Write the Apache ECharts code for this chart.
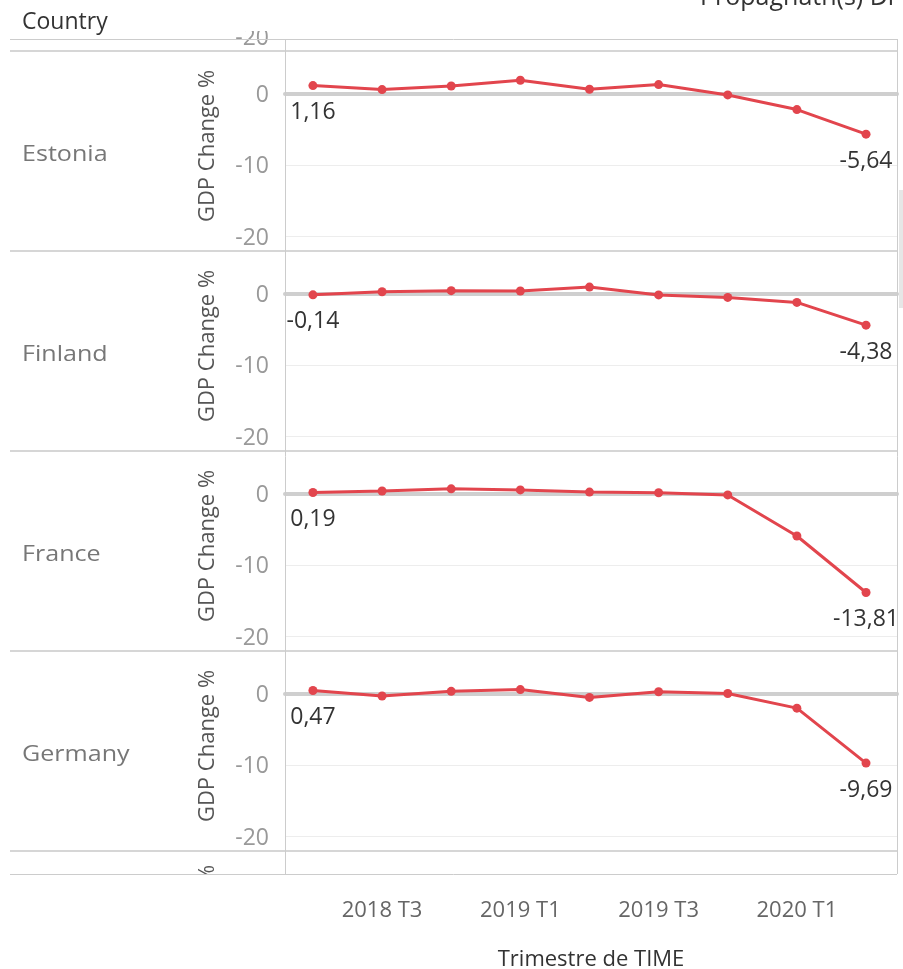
<!DOCTYPE html>
<html>
<head>
<meta charset="utf-8">
<script src="https://cdn.jsdelivr.net/npm/echarts@6/dist/echarts.min.js"></script>
<style>
  html, body { margin: 0; padding: 0; background: #fff; }
  #chart { width: 903px; height: 969px; }
</style>
</head>
<body>
<div id="chart"></div>
<script>
var quarters = ['2018 T2', '2018 T3', '2018 T4', '2019 T1', '2019 T2', '2019 T3', '2019 T4', '2020 T1', '2020 T2'];
var countries = ['Estonia', 'Finland', 'France', 'Germany'];
var estonia = [1.16, 0.6, 1.1, 1.9, 0.65, 1.3, -0.15, -2.2, -5.64];
var finland = [-0.14, 0.3, 0.45, 0.4, 0.95, -0.15, -0.5, -1.2, -4.38];
var france = [0.19, 0.4, 0.7, 0.55, 0.25, 0.15, -0.15, -5.9, -13.81];
var germany = [0.47, -0.3, 0.35, 0.6, -0.5, 0.3, 0.05, -2.0, -9.69];
var yTicks = [0, -10, -20];
var xTickIdx = [1, 3, 5, 7];

var values = [estonia, finland, france, germany];
var FONT = "'Open Sans', 'Noto Sans', sans-serif";
var RED = '#e2454d';
var XMIN = -0.404, XMAX = 8.448;
var LEFT = 285, RIGHT = 6, PANEL = 200, FIRST = 51;

var grids = [], xAxes = [], yAxes = [], series = [], graphic = [];

// panel tops: one above (scrolled out), four countries, one partial below
var tops = [FIRST - PANEL, FIRST, FIRST + PANEL, FIRST + 2 * PANEL, FIRST + 3 * PANEL, FIRST + 4 * PANEL];

tops.forEach(function (t, i) {
    var isData = i >= 1 && i <= 4;
    grids.push({ left: LEFT, right: RIGHT, top: t, height: PANEL, outerBoundsMode: 'none' });
    xAxes.push({
        type: 'value', gridIndex: i, min: XMIN, max: XMAX,
        axisLine: { show: isData, lineStyle: { color: '#cfcfcf', width: 4 } },
        axisTick: { show: false }, axisLabel: { show: false }, splitLine: { show: false }
    });
    yAxes.push({
        type: 'value', gridIndex: i, min: -22, max: 6, interval: 2,
        name: i === 0 ? '' : 'GDP Change %',
        nameLocation: 'middle', nameGap: 66,
        nameTextStyle: { color: '#555', fontSize: 22, fontFamily: FONT, padding: [0, 0, 0, i === 5 ? 20 : 10] },
        axisLine: { show: false }, axisTick: { show: false },
        axisLabel: {
            show: i <= 4, color: '#999', fontSize: 23, fontFamily: FONT, margin: 16,
            verticalAlign: 'top', padding: [-10, 0, 0, 0],
            formatter: function (v) { return yTicks.indexOf(v) >= 0 ? String(v) : ''; }
        },
        splitLine: {
            show: isData,
            lineStyle: { color: ['transparent', '#ededed', 'transparent', 'transparent', 'transparent'], width: 1 }
        }
    });
});

// quarter labels under the view
xAxes.push({
    type: 'value', gridIndex: 4, min: XMIN, max: XMAX, position: 'bottom', offset: 23,
    axisLine: { show: false, onZero: false }, axisTick: { show: false }, splitLine: { show: false },
    axisLabel: {
        customValues: xTickIdx, color: '#666', fontSize: 22, fontFamily: FONT, margin: 26,
        formatter: function (v) { return quarters[v]; }
    },
    name: 'Trimestre de TIME', nameLocation: 'middle', nameGap: 75,
    nameTextStyle: { color: '#333', fontSize: 22, fontFamily: FONT }
});

values.forEach(function (vals, k) {
    var g = k + 1;
    series.push({
        type: 'line', name: countries[k], xAxisIndex: g, yAxisIndex: g, z: 5,
        data: vals.map(function (v, j) { return [j, v]; }),
        color: RED, symbol: 'circle', symbolSize: 9,
        lineStyle: { width: 3, color: RED },
        label: {
            show: true, position: 'bottom', distance: 11,
            color: '#333', fontSize: 23, fontFamily: FONT,
            formatter: function (p) {
                var n = p.data[0];
                if (n === 0 || n === quarters.length - 1) return p.data[1].toFixed(2).replace('.', ',');
                return '';
            }
        }
    });
    graphic.push({
        type: 'text', x: 22, y: FIRST + PANEL * k + PANEL / 2 - 7, scaleX: 1.14,
        style: { text: countries[k], fill: '#777', font: '22px ' + FONT }
    });
});

function hline(y, x1, x2, w, c) {
    graphic.push({ type: 'line', z: 60, shape: { x1: x1, y1: y, x2: x2, y2: y }, style: { stroke: c, lineWidth: w } });
}
function vline(x, y1, y2, c) {
    graphic.push({ type: 'line', z: 60, shape: { x1: x, y1: y1, x2: x, y2: y2 }, style: { stroke: c, lineWidth: 1 } });
}

// masks for the scrolled-out parts
graphic.push({ type: 'rect', z: 50, shape: { x: 150, y: 0, width: 300, height: 31 }, style: { fill: '#fff' } });
graphic.push({ type: 'rect', z: 50, shape: { x: 0, y: 875, width: 284, height: 94 }, style: { fill: '#fff' } });

hline(39.5, 10, 897, 1, '#cccccc');
for (var s = 0; s < 5; s++) hline(FIRST + PANEL * s, 10, 897, 2, '#d6d6d6');
hline(874.5, 10, 897, 1, '#cccccc');
vline(285.5, 39, 874, '#cccccc');
vline(897.5, 39, 874, '#cccccc');

graphic.push({ type: 'rect', z: 60, shape: { x: 899, y: 190, width: 4, height: 118 }, style: { fill: '#e6e6e6' } });
graphic.push({
    type: 'text', z: 70, left: 22, top: 11,
    style: { text: 'Country', fill: '#333', font: '23px ' + FONT }
});
graphic.push({
    type: 'text', z: 70, left: 700, top: -15,
    style: { text: 'Propagnatn(s) Di', fill: '#333', font: '25px ' + FONT }
});

var chart = echarts.init(document.getElementById('chart'));
chart.setOption({
    animation: false,
    backgroundColor: '#fff',
    grid: grids,
    xAxis: xAxes,
    yAxis: yAxes,
    series: series,
    graphic: graphic
});
</script>
</body>
</html>
